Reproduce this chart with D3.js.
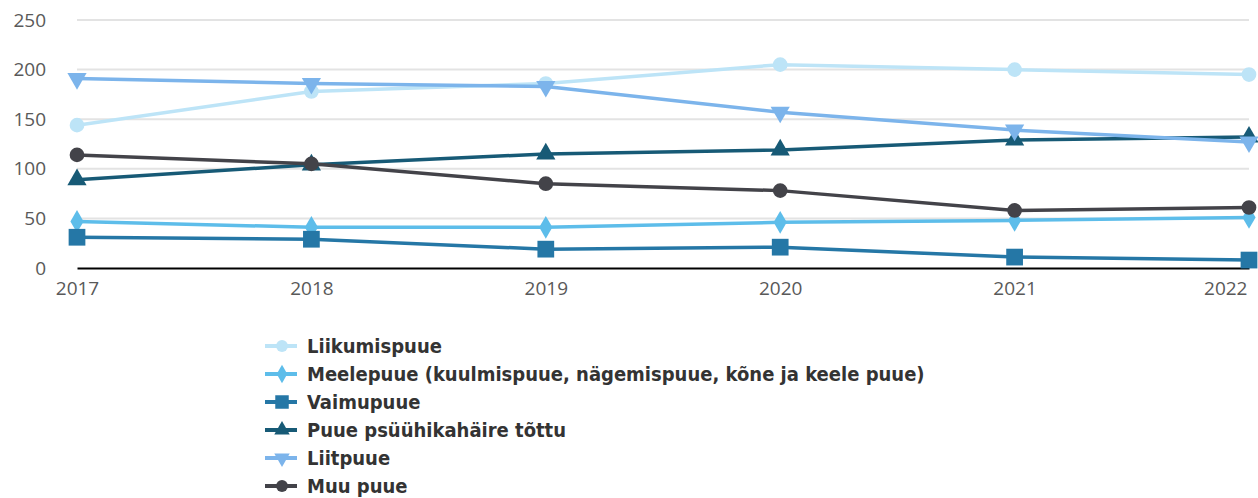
<!DOCTYPE html>
<html>
<head>
<meta charset="utf-8">
<script src="https://cdn.jsdelivr.net/npm/d3@7"></script>
<style>
  body { margin: 0; background: #fff; }
  svg { display: block; }
</style>
</head>
<body>
<script>
const years = ["2017", "2018", "2019", "2020", "2021", "2022"];
const yTicks = [0, 50, 100, 150, 200, 250];

const liikumispuue = [144, 178, 186, 205, 200, 195];
const meelepuue = [47, 41, 41, 46, 48, 51];
const vaimupuue = [31, 29, 19, 21, 11, 8];
const psyyhika = [89, 104, 115, 119, 129, 132];
const liitpuue = [191, 186, 183, 157, 139, 127];
const muuPuue = [114, 105, 85, 78, 58, 61];

const seriesNames = [
	"Liikumispuue",
	"Meelepuue (kuulmispuue, nägemispuue, kõne ja keele puue)",
	"Vaimupuue",
	"Puue psüühikahäire tõttu",
	"Liitpuue",
	"Muu puue"
];
const seriesColors = ["#bde4f7", "#5dbdea", "#2577a6", "#175a76", "#7cb4eb", "#434349"];
const seriesSymbols = [d3.symbolCircle, d3.symbolDiamond, d3.symbolSquare, d3.symbolTriangle, "triangleDown", d3.symbolCircle];
const series = [liikumispuue, meelepuue, vaimupuue, psyyhika, liitpuue, muuPuue]
	.map((values, i) => ({ name: seriesNames[i], values, color: seriesColors[i], symbol: seriesSymbols[i] }));

const width = 1258, height = 498;
const margin = { left: 77, right: 9, top: 20, bottom: 230 };

const x = d3.scalePoint().domain(years).range([margin.left, width - margin.right]);
const y = d3.scaleLinear().domain([0, 250]).range([height - margin.bottom, margin.top]);

const svg = d3.select("body").append("svg")
	.attr("width", width)
	.attr("height", height);

// gridlines
svg.append("g")
	.selectAll("line")
	.data(yTicks.filter(d => d > 0))
	.join("line")
	.attr("x1", margin.left)
	.attr("x2", width - margin.right)
	.attr("y1", d => y(d))
	.attr("y2", d => y(d))
	.attr("stroke", "#e3e3e3")
	.attr("stroke-width", 2);

// y axis labels
const yAxis = svg.append("g")
	.attr("transform", `translate(${margin.left},0)`)
	.call(d3.axisLeft(y).tickValues(yTicks).tickSize(0).tickPadding(31));
yAxis.select(".domain").remove();
yAxis.selectAll("text")
	.attr("font-family", "'Open Sans', sans-serif")
	.attr("font-size", 19)
	.attr("fill", "#595959");

// x axis
const xAxis = svg.append("g")
	.attr("transform", `translate(0,${y(0)})`)
	.call(d3.axisBottom(x).tickSize(0).tickPadding(14));
xAxis.select(".domain")
	.attr("stroke", "#000")
	.attr("stroke-width", 2);
xAxis.selectAll("text")
	.attr("font-family", "'Open Sans', sans-serif")
	.attr("font-size", 19)
	.attr("fill", "#595959");
// keep last label inside the frame
xAxis.selectAll(".tick")
	.filter(d => d === years[years.length - 1])
	.select("text")
	.attr("text-anchor", "end")
	.attr("x", -2);

function symbolPath(sym, size) {
	if (sym === "triangleDown") {
		return d3.symbol(d3.symbolTriangle, size)();
	}
	return d3.symbol(sym, size)();
}
const markerSize = s => s === d3.symbolSquare ? 280 : s === d3.symbolCircle ? 170 : s === d3.symbolDiamond ? 150 : 160;

const line = d3.line()
	.x((d, i) => x(years[i]))
	.y(d => y(d));

series.forEach(s => {
	const g = svg.append("g");
	g.append("path")
		.attr("d", line(s.values))
		.attr("fill", "none")
		.attr("stroke", s.color)
		.attr("stroke-width", 3.5);
	g.selectAll("path.m")
		.data(s.values)
		.join("path")
		.attr("class", "m")
		.attr("d", symbolPath(s.symbol, markerSize(s.symbol)))
		.attr("transform", (d, i) => `translate(${x(years[i])},${y(d)})${s.symbol === "triangleDown" ? " rotate(180)" : ""}`)
		.attr("fill", s.color);
});

// legend
const legend = svg.append("g")
	.attr("transform", "translate(265,346)");
const items = legend.selectAll("g")
	.data(series)
	.join("g")
	.attr("transform", (d, i) => `translate(0,${i * 28})`);
items.append("line")
	.attr("x1", 0).attr("x2", 32)
	.attr("stroke", d => d.color)
	.attr("stroke-width", 4);
items.append("path")
	.attr("d", d => symbolPath(d.symbol, markerSize(d.symbol) * 0.65))
	.attr("transform", d => `translate(17,0)${d.symbol === "triangleDown" ? " rotate(180)" : ""}`)
	.attr("fill", d => d.color);
items.append("text")
	.attr("x", 42)
	.attr("dy", "0.36em")
	.attr("font-family", "'DejaVu Sans Condensed', sans-serif")
	.attr("font-weight", "bold")
	.attr("font-size", 20)
	.attr("fill", "#333")
	.text(d => d.name);
</script>
</body>
</html>
